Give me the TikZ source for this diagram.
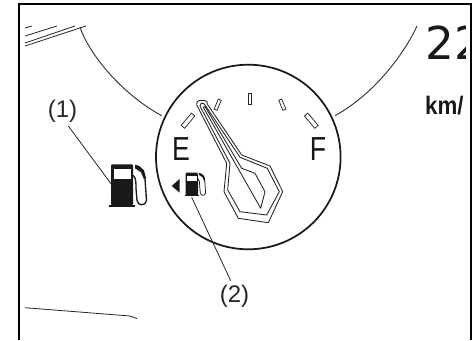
\documentclass[tikz,border=0pt]{standalone}
\usepackage{fontspec}
\setmainfont{Liberation Sans}
\newfontfamily\readoutfont{DejaVu Sans}
\tikzset{
  x=0.75pt,y=-0.75pt,
  thinline/.style={line width=0.6pt,draw=black!85},
  arcline/.style={line width=0.7pt,draw=black!80},
  needleline/.style={line width=0.65pt,draw=black!85,line join=round},
  tickbar/.style={line width=0.55pt,draw=black!85,fill=white},
  lab/.style={inner sep=0pt,text=black!85,font=\fontsize{18}{20}\selectfont},
  gaugelet/.style={inner sep=0pt,text=black!90,xscale=0.8,font=\fontsize{25}{26}\selectfont},
}
\newcommand{\pumpicon}[3]{%
  \begin{scope}[shift={(#1,#2)},scale=#3]
    \fill[black!90,rounded corners=0.8pt] (0,0) -- (22,0) -- (22,41) -- (0,41) -- cycle;
    \fill[black!90] (-2,40.6) rectangle (24,42.4);
    \fill[white] (3,5) rectangle (20,15);
    \draw[black!90,line width=#3*1.0pt,line join=round,line cap=round]
      (22,11) .. controls (25,13) and (25,18) .. (25,24)
      -- (26,36) .. controls (26.5,42) and (35,42) .. (35.5,36)
      -- (34,15) .. controls (34,9) and (31,4) .. (25,2);
    \fill[black!90] (24,0.5) -- (28,1.5) -- (33,6) -- (35,14) -- (33,15) -- (30,8) -- (24,4) -- cycle;
  \end{scope}}
\begin{document}
\begin{tikzpicture}
\useasboundingbox (0,0) rectangle (476,340);
% frame
\draw[line width=1.5pt,line cap=butt] (19,340) -- (19,3.5) -- (470.7,3.5) -- (470.7,340);
% background sketch lines
\draw[thinline] (25,28) -- (32,26);
\draw[thinline] (25,36) -- (57,26);
\draw[thinline] (25,43) -- (75,26);
\draw[thinline] (25,46) -- (86,26);
\draw[thinline] (25,307.7) -- (130,316) -- (137,318.5);
% outer gauge arcs
\draw[arcline] (80,27) .. controls (88,52) and (120,93) .. (161.7,115.7);
\draw[arcline] (417,26) .. controls (405,52) and (376,93) .. (335,115.7);
% dial
\draw[line width=1.3pt,black!90,fill=white] (248.3,157) circle[radius=92.3];
% ticks
\foreach \cx/\cy/\ang/\len/\wid in {188/120.7/-40/16/4.5,217.7/104.7/-23/11/3.2,249.7/99/0/11/3,282.3/104.7/23/11/3.2,311.3/120.7/40/16/4.5}{
  \draw[tickbar,rotate around={\ang:(\cx,\cy)}] (\cx-\wid/2,\cy-\len/2) rectangle (\cx+\wid/2,\cy+\len/2);
}
% needle
\draw[needleline] (196.7,105) .. controls (196,100) and (200,100) .. (205,100.7)
  .. controls (207,101) and (207.5,102) .. (207.3,104)
  -- (241.7,155) -- (270,166) -- (282.7,191.7) -- (268.3,222.7) -- (238.3,218.3) -- (224,191.7) -- (226.7,163.3) -- cycle;
\draw[needleline] (200,106) .. controls (200,103) and (203,102) .. (205,105)
  -- (240,157.3) -- (267.3,168.3) -- (279.3,191.7) -- (266.7,215) -- (240,211.7) -- (227.7,190) -- (230,163.3) -- cycle;
\draw[needleline] (203.3,107.3) -- (205,106.5) -- (241.7,168.3) -- (255,173.3) -- (265,191.7) -- (260.7,208.3) -- cycle;
% letters
\node[gaugelet,anchor=center] (letE) at (181,149.2) {E};
\node[gaugelet,anchor=center] (letF) at (318,149.2) {F};
% readout, cut by the picture's window
\begin{scope}
  \clip (400,5) rectangle (465.8,130);
  \node[inner sep=0pt,anchor=base west,text=black!90,font=\readoutfont\fontsize{34}{36}\selectfont] (readout) at (425,59) {22};
  \node[inner sep=0pt,anchor=base west,text=black!90,xscale=0.88,font=\bfseries\fontsize{19}{20}\selectfont] (unit) at (425,114) {km/};
\end{scope}
% pump icons
\pumpicon{111}{164.3}{1}
\pumpicon{185.7}{172.7}{0.56}
\fill[black!90] (171.7,186) -- (179.5,179) -- (179.5,192.5) -- cycle;
% labels and leaders
\node[lab] (lab1) at (62.5,111) {(1)};
\node[lab] (lab2) at (234.5,296.5) {(2)};
\coordinate (lead1a) at (68.3,126);
\coordinate (lead1b) at (112.7,186);
\coordinate (lead2a) at (191.7,197.3);
\coordinate (lead2b) at (230.7,280.7);
\draw[thinline] (lead1a) -- (lead1b);
\draw[thinline] (lead2a) -- (lead2b);
\end{tikzpicture}
\end{document}
